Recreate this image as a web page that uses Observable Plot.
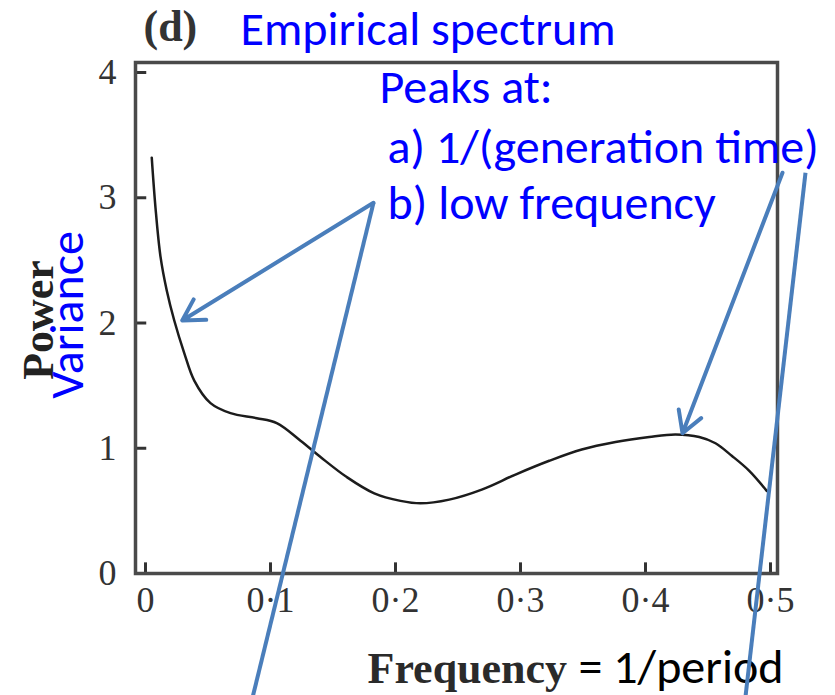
<!DOCTYPE html>
<html><head><meta charset="utf-8">
<script src="https://cdn.jsdelivr.net/npm/d3@7"></script>
<script src="https://cdn.jsdelivr.net/npm/@observablehq/plot@0.6"></script>
<style>body{margin:0;background:#fff;}</style>
</head><body><div id="chart"></div>
<script>
// ---- data ----
const frequency = [0.005, 0.008, 0.012, 0.017, 0.023, 0.031, 0.039, 0.052, 0.068, 0.089, 0.105, 0.124, 0.140, 0.161, 0.183, 0.204, 0.220, 0.243, 0.269, 0.296, 0.323, 0.349, 0.376, 0.403, 0.424, 0.443, 0.456, 0.469, 0.483, 0.497];
const power     = [3.32, 2.92, 2.53, 2.26, 2.02, 1.76, 1.54, 1.36, 1.28, 1.24, 1.20, 1.06, 0.93, 0.77, 0.64, 0.58, 0.56, 0.59, 0.67, 0.79, 0.90, 0.99, 1.05, 1.09, 1.11, 1.09, 1.04, 0.94, 0.82, 0.66];
const xTicks = [0, 0.1, 0.2, 0.3, 0.4, 0.5];
const xTickLabels = ["0", "0·1", "0·2", "0·3", "0·4", "0·5"];
const yTicks = [0, 1, 2, 3, 4];
const yTickLabels = ["0", "1", "2", "3", "4"];
const panelLabel = "(d)";
const titleText = "Empirical spectrum";
const noteLines = ["Peaks at:", "a) 1/(generation time)", "b) low frequency"];
const yLabelOriginal = "Power";
const yLabelNew = "Variance";
const xLabelOriginal = "Frequency";
const xLabelNew = "= 1/period";

// ---- build ----
const spectrum = frequency.map((f, i) => ({f, p: power[i]}));
const xDomain = [-0.008, 0.5056];
const yDomain = [0, 4.08];
const serif = "'Liberation Serif','DejaVu Serif',serif";
const sans = "Carlito, Lato, sans-serif";
const blue = "#0000ff";
const arrowBlue = "#4a7ebb";

const note = (t, dx, dy, o = {}) => Plot.text([t], {
  frameAnchor: "top-left", text: d => d, textAnchor: "start", lineAnchor: "bottom",
  dx, dy, fontFamily: sans, fontSize: 48, fill: blue, ...o
});

const chart = Plot.plot({
  width: 835, height: 695,
  marginLeft: 135, marginRight: 58, marginTop: 62, marginBottom: 122,
  x: {domain: xDomain},
  y: {domain: yDomain},
  style: {background: "#fff", overflow: "visible"},
  marks: [
    Plot.axisX(xTicks, {tickSize: 0, tickPadding: 13, label: null,
      tickFormat: d => xTickLabels[xTicks.indexOf(d)],
      fontFamily: serif, fontSize: 36, fontWeight: "normal", color: "#333"}),
    Plot.axisY(yTicks, {tickSize: 0, tickPadding: 19, label: null,
      tickFormat: d => yTickLabels[yTicks.indexOf(d)],
      fontFamily: serif, fontSize: 36, fontWeight: "normal", color: "#333"}),
    Plot.ruleX(xTicks, {x: d => d, y1: 0, y2: 0.085, stroke: "#333", strokeWidth: 3}),
    Plot.ruleY(yTicks, {y: d => d, x1: xDomain[0], x2: xDomain[0] + 0.009, stroke: "#333", strokeWidth: 3}),
    Plot.frame({stroke: "#4a4a4a", strokeWidth: 3.5}),
    Plot.line(spectrum, {x: "f", y: "p", curve: "catmull-rom", stroke: "#1c1c1c", strokeWidth: 2.5}),
    // titles
    note(panelLabel, 8, -22, {fontFamily: serif, fontWeight: "bold", fontSize: 44, fill: "#333"}),
    note(titleText, 105, -18),
    note(noteLines[0], 244, 40),
    note(noteLines[1], 252, 100),
    note(noteLines[2], 252, 156),
    // axis labels
    Plot.text([yLabelOriginal], {frameAnchor: "left", text: d => d, rotate: -90, textAnchor: "middle", lineAnchor: "bottom",
      dx: -83, dy: 2, fontFamily: serif, fontWeight: "bold", fontSize: 44, fill: "#222"}),
    Plot.text([yLabelNew], {frameAnchor: "left", text: d => d, rotate: -90, textAnchor: "middle", lineAnchor: "bottom",
      dx: -53, dy: -3, fontFamily: sans, fontSize: 48, fill: blue}),
    Plot.text([xLabelOriginal], {frameAnchor: "bottom-left", text: d => d, textAnchor: "start", lineAnchor: "bottom",
      dx: 232, dy: 109, fontFamily: serif, fontWeight: "bold", fontSize: 44, fill: "#2a2a2a"}),
    Plot.text([xLabelNew], {frameAnchor: "bottom-left", text: d => d, textAnchor: "start", lineAnchor: "bottom",
      dx: 443, dy: 109, fontFamily: sans, fontSize: 48, fill: "#000"}),
    // annotation arrows (data coordinates)
    Plot.arrow([{x1: 0.1824, y1: 2.96, x2: 0.0294, y2: 2.02}], {x1: "x1", y1: "y1", x2: "x2", y2: "y2", stroke: arrowBlue, strokeWidth: 4, headLength: 9}),
    Plot.link([{x1: 0.1824, y1: 2.96, x2: 0.0854, y2: -1.0}], {x1: "x1", y1: "y1", x2: "x2", y2: "y2", stroke: arrowBlue, strokeWidth: 4}),
    Plot.arrow([{x1: 0.5096, y1: 3.20, x2: 0.4296, y2: 1.12}], {x1: "x1", y1: "y1", x2: "x2", y2: "y2", stroke: arrowBlue, strokeWidth: 4, headLength: 9}),
    Plot.link([{x1: 0.528, y1: 3.20, x2: 0.4798, y2: -1.0}], {x1: "x1", y1: "y1", x2: "x2", y2: "y2", stroke: arrowBlue, strokeWidth: 4})
  ]
});
document.getElementById("chart").appendChild(chart);
</script>
</body></html>
